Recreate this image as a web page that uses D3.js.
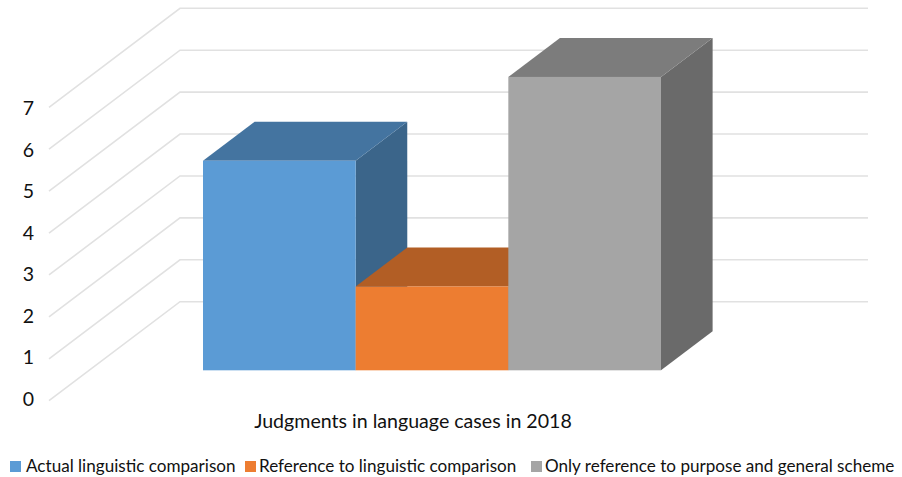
<!DOCTYPE html>
<html>
<head>
<meta charset="utf-8">
<script src="https://cdn.jsdelivr.net/npm/d3@7"></script>
<style>
  html, body { margin: 0; background: #fff; }
  svg { display: block; }
  text { font-family: Lato, "Open Sans", sans-serif; fill: #111; }
</style>
</head>
<body>
<svg id="chart"></svg>
<script>
const w = 902;
const h = 477;

const categories = ["Actual linguistic comparison", "Reference to linguistic comparison", "Only reference to purpose and general scheme"];
const values = [5, 2, 7];
const yTicks = [0, 1, 2, 3, 4, 5, 6, 7];
const title = "Judgments in language cases in 2018";

const frontColors = ["#5b9bd5", "#ed7d31", "#a5a5a5"];
const topColors = ["#4474a0", "#b25e25", "#7c7c7c"];
const sideColors = ["#3b658a", "#9a5120", "#6a6a6a"];
const legendX = [10, 245, 531];
const legendTextX = [26, 259, 545];

var chart = d3.select("#chart")
  .attr("width", w)
  .attr("height", h);

const xScale = d3.scaleBand()
                 .domain(categories)
                 .range([203, 661]);

// y position on the front plane of the box
const yScale = d3.scaleLinear()
                 .domain([0, 7])
                 .range([400.7, 107.3]);

// the tick labels are spaced a little tighter than the gridlines
const labelScale = d3.scaleLinear()
                     .domain([0, 7])
                     .range([399.2, 108.2]);

// depth 0 = front of the box, 1 = back wall
const dx = d3.scaleLinear().domain([0, 1]).range([0, 131]);
const dy = d3.scaleLinear().domain([0, 1]).range([0, -99]);

const barFront = 0.307;
const barBack = 0.701;

function pt(x, v, depth) {
  return [x, yScale(v) + dy(depth)];
}

// gridlines: slanted piece on the floor side, then along the back wall
const line = d3.line();
chart.append("g")
     .selectAll("path")
     .data(yTicks)
     .enter()
     .append("path")
     .attr("d", d => line([[49, yScale(d)], [49 + dx(1), yScale(d) + dy(1)], [868, yScale(d) + dy(1)]]))
     .attr("fill", "none")
     .attr("stroke", "#e1e1e1")
     .attr("stroke-width", 1.6);

const yAxis = d3.axisLeft(labelScale).tickValues(yTicks).tickFormat(d3.format("d")).tickSize(0).tickPadding(0);
const axisG = chart.append("g")
                   .attr("id", "y-axis")
                   .attr("transform", "translate(34, 0)")
                   .call(yAxis);
axisG.select(".domain").remove();
axisG.selectAll("text")
     .attr("font-size", 19.5)
     .style("font-family", "Lato, sans-serif")
     .style("fill", "#111");

const depthW = dx(barBack - barFront);

const bars = chart.append("g")
                  .selectAll("g")
                  .data(categories)
                  .enter()
                  .append("g");

// side face
bars.append("path")
    .attr("d", (d, i) => {
      const r = xScale(d) + xScale.bandwidth();
      return line([pt(r, 0, barFront), pt(r + depthW, 0, barBack), pt(r + depthW, values[i], barBack), pt(r, values[i], barFront)]) + "Z";
    })
    .attr("fill", (d, i) => sideColors[i]);

// top face
bars.append("path")
    .attr("d", (d, i) => {
      const l = xScale(d);
      const r = l + xScale.bandwidth();
      return line([pt(l, values[i], barFront), pt(l + depthW, values[i], barBack), pt(r + depthW, values[i], barBack), pt(r, values[i], barFront)]) + "Z";
    })
    .attr("fill", (d, i) => topColors[i]);

// front face
bars.append("rect")
    .attr("x", d => xScale(d))
    .attr("y", (d, i) => pt(0, values[i], barFront)[1])
    .attr("width", xScale.bandwidth())
    .attr("height", (d, i) => yScale(0) - yScale(values[i]))
    .attr("fill", (d, i) => frontColors[i]);

chart.append("text")
     .attr("x", 413)
     .attr("y", 428)
     .attr("text-anchor", "middle")
     .attr("font-size", 19.6)
     .text(title);

const legend = chart.append("g")
                    .selectAll("g")
                    .data(categories)
                    .enter()
                    .append("g");

legend.append("rect")
      .attr("x", (d, i) => legendX[i])
      .attr("y", 461)
      .attr("width", 11)
      .attr("height", 11)
      .attr("fill", (d, i) => frontColors[i]);

legend.append("text")
      .attr("x", (d, i) => legendTextX[i])
      .attr("y", 472)
      .attr("font-size", 17.1)
      .text(d => d);
</script>
</body>
</html>
